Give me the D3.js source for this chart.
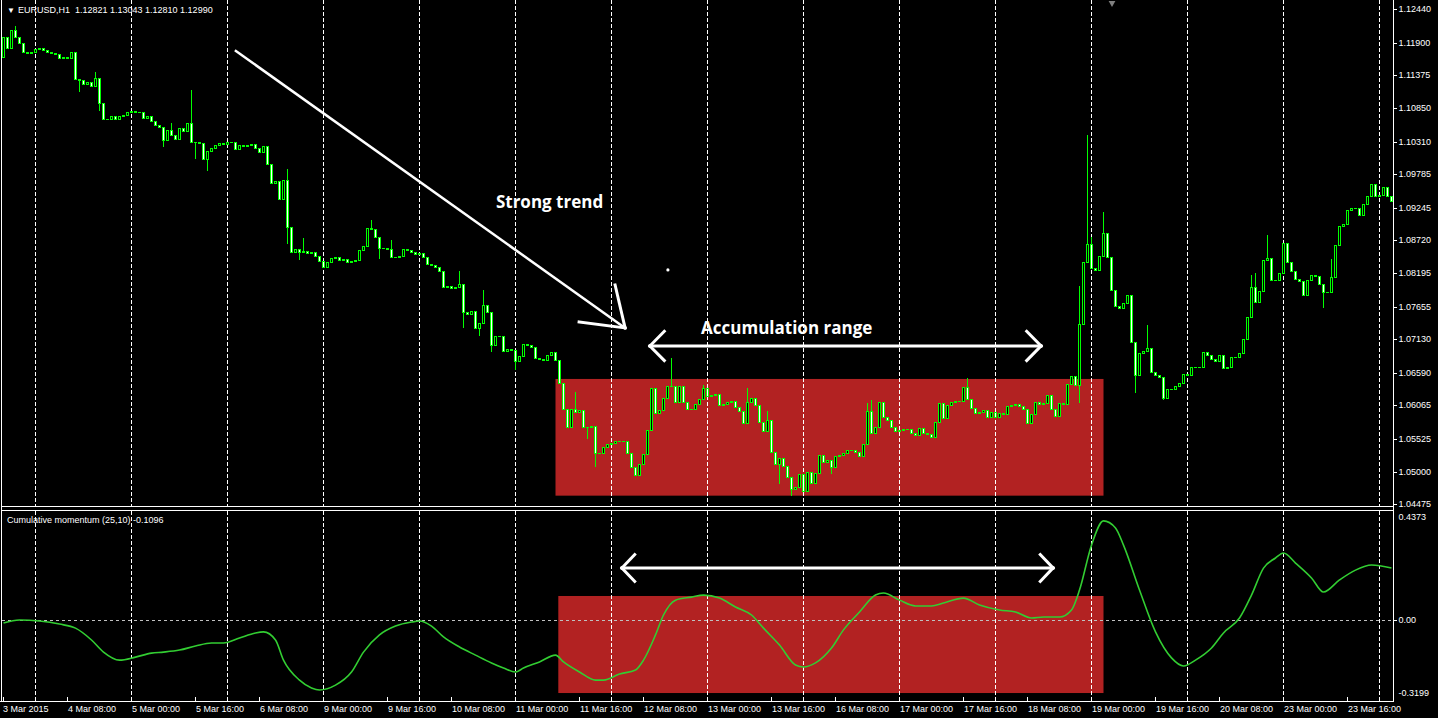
<!DOCTYPE html>
<html><head><meta charset="utf-8">
<script src="https://cdn.jsdelivr.net/npm/d3@7"></script>
<style>html,body{margin:0;padding:0;background:#000;overflow:hidden}svg{display:block}</style>
</head><body><svg id="c" width="1438" height="718"></svg>
<script>
// ---------------- DATA ----------------
const symbolTitle = "EURUSD,H1  1.12821 1.13043 1.12810 1.12990";
const indicatorTitle = "Cumulative momentum (25,10) -0.1096";
const firstOpen = 1.11673;
const closes = [
1.11995,1.11818,1.12107,1.11995,1.11898,1.11753,1.11737,1.11753,1.11802,1.11818,1.11786,1.11753,1.11737,1.11721,1.11657,1.11673,
1.11657,1.11753,1.11319,1.11303,1.11238,1.11271,1.11206,1.11335,1.10933,1.10675,1.10675,1.10724,1.10675,1.10724,1.10740,1.10788,
1.10804,1.10788,1.10788,1.10691,1.10724,1.10643,1.10579,1.10547,1.10337,1.10498,1.10418,1.10354,1.10531,1.10482,1.10611,1.10305,
1.10305,1.10289,1.10032,1.10160,1.10209,1.10257,1.10289,1.10273,1.10305,1.10300,1.10193,1.10257,1.10241,1.10257,1.10273,1.10209,
1.10144,1.10241,1.09951,1.09646,1.09678,1.09388,1.09694,1.08938,1.08535,1.08584,1.08535,1.08551,1.08519,1.08535,1.08471,1.08391,
1.08294,1.08374,1.08439,1.08455,1.08407,1.08423,1.08374,1.08391,1.08407,1.08568,1.08632,1.08922,1.08905,1.08777,1.08600,1.08605,
1.08584,1.08455,1.08450,1.08471,1.08584,1.08568,1.08535,1.08503,1.08519,1.08455,1.08342,1.08326,1.08294,1.08230,1.07972,1.07988,
1.07956,1.07972,1.08020,1.07570,1.07538,1.07586,1.07313,1.07393,1.07683,1.07570,1.07039,1.07184,1.07180,1.06942,1.06975,1.06959,
1.06782,1.06862,1.07055,1.07039,1.07007,1.06830,1.06814,1.06798,1.06878,1.06926,1.06798,1.06428,1.06009,1.05720,1.06009,1.05961,
1.05993,1.05720,1.05715,1.05736,1.05301,1.05296,1.05398,1.05446,1.05462,1.05494,1.05490,1.05494,1.05301,1.05076,1.04947,1.05124,
1.05285,1.05671,1.06347,1.05945,1.05993,1.06186,1.06379,1.06375,1.06122,1.06379,1.06122,1.06009,1.06005,1.06090,1.06170,1.06347,
1.06218,1.06234,1.06251,1.06074,1.06090,1.06122,1.06138,1.06041,1.05977,1.05784,1.06122,1.06186,1.06074,1.05800,1.05655,1.05832,
1.05317,1.05124,1.05221,1.05092,1.04915,1.04722,1.04754,1.04963,1.04690,1.04996,1.04819,1.04979,1.05269,1.05156,1.05189,1.05076,
1.05253,1.05269,1.05301,1.05350,1.05345,1.05317,1.05253,1.05446,1.05977,1.05623,1.05720,1.06122,1.05881,1.05832,1.05720,1.05655,
1.05671,1.05687,1.05683,1.05623,1.05591,1.05704,1.05623,1.05607,1.05559,1.05800,1.06106,1.05864,1.06074,1.06122,1.06138,1.06134,
1.06363,1.06170,1.06025,1.05945,1.05961,1.05993,1.05881,1.05961,1.05881,1.05945,1.05929,1.06058,1.06074,1.06090,1.06058,1.06009,
1.05784,1.05929,1.06122,1.06090,1.06106,1.06234,1.06009,1.05897,1.06106,1.06090,1.06411,1.06540,1.06395,1.07377,1.08374,1.08664,
1.08278,1.08246,1.08471,1.08841,1.08455,1.07924,1.07667,1.07634,1.07715,1.07843,1.07087,1.06556,1.06910,1.06942,1.06991,1.06605,
1.06556,1.06524,1.06186,1.06331,1.06327,1.06379,1.06428,1.06572,1.06556,1.06685,1.06681,1.06685,1.06926,1.06878,1.06814,1.06782,
1.06878,1.06669,1.06685,1.06846,1.06842,1.06910,1.07136,1.07490,1.07972,1.07731,1.07908,1.08407,1.08439,1.08085,1.08081,1.08197,
1.08680,1.08374,1.08230,1.08101,1.08069,1.07843,1.08085,1.08165,1.08149,1.08020,1.07892,1.07888,1.08133,1.08648,1.08954,1.08986,
1.09211,1.09243,1.09239,1.09131,1.09308,1.09436,1.09629,1.09436,1.09452,1.09581,1.09436,1.09356
];
// notable wicks (bar index -> extreme price)
const highIdx = [3,23,42,47,71,75,92,97,114,120,143,167,175,186,191,216,217,241,269,271,272,275,286,312,313,316,332];
const highVal = [1.12172,1.11432,1.10611,1.11142,1.09871,1.08761,1.09050,1.08728,1.08230,1.07924,1.06283,1.06830,1.06395,1.06347,1.05977,1.06106,1.06154,1.06508,1.07988,1.10418,1.08777,1.09179,1.07361,1.08165,1.08197,1.08809,1.08423];
const lowIdx = [19,24,40,48,51,71,74,94,115,119,122,128,146,148,194,197,207,269,283,290,330];
const lowVal = [1.11126,1.10820,1.10241,1.10048,1.09855,1.08680,1.08423,1.08439,1.07329,1.07200,1.06942,1.06653,1.05543,1.05092,1.04819,1.04625,1.04979,1.06122,1.06283,1.06170,1.07650];

const priceTicks = [1.12440,1.11900,1.11375,1.10850,1.10310,1.09785,1.09245,1.08720,1.08195,1.07655,1.07130,1.06590,1.06065,1.05525,1.05000,1.04475];
const timeLabels = ["3 Mar 2015","4 Mar 08:00","5 Mar 00:00","5 Mar 16:00","6 Mar 08:00","9 Mar 00:00","9 Mar 16:00","10 Mar 08:00","11 Mar 00:00","11 Mar 16:00","12 Mar 08:00","13 Mar 00:00","13 Mar 16:00","16 Mar 08:00","17 Mar 00:00","17 Mar 16:00","18 Mar 08:00","19 Mar 00:00","19 Mar 16:00","20 Mar 08:00","23 Mar 00:00","23 Mar 16:00"];
const timeLabelBars = [0,16,32,48,64,80,96,112,128,144,160,176,192,208,224,240,256,272,288,304,320,336];
const gridBars = [8,32,56,80,104,128,152,176,200,224,248,272,296,320,344];

const momBars = [0,4,9,14,18,22,25,29,33,37,40,44,48,52,55,59,63,65,68,70,74,77,79,83,87,90,94,98,102,104,107,110,114,118,122,125,128,130,134,138,140,144,148,150,154,158,160,163,165,168,172,175,179,183,187,190,194,198,200,203,207,210,214,218,220,224,228,232,235,240,244,249,253,257,260,264,267,269,272,275,278,280,284,288,292,295,298,302,305,309,312,315,318,320,323,327,330,334,338,342,347];
const momValues = [-0.011,0.001,-0.003,-0.015,-0.031,-0.078,-0.126,-0.158,-0.146,-0.130,-0.126,-0.118,-0.102,-0.090,-0.090,-0.070,-0.050,-0.046,-0.078,-0.158,-0.237,-0.268,-0.276,-0.257,-0.205,-0.126,-0.058,-0.023,-0.007,-0.003,-0.023,-0.066,-0.106,-0.138,-0.169,-0.189,-0.205,-0.189,-0.165,-0.138,-0.165,-0.205,-0.237,-0.237,-0.213,-0.197,-0.158,-0.058,0.021,0.080,0.092,0.100,0.088,0.053,0.021,-0.031,-0.098,-0.177,-0.185,-0.169,-0.110,-0.038,0.033,0.100,0.108,0.080,0.057,0.057,0.069,0.088,0.061,0.041,0.033,0.009,0.013,0.013,0.041,0.120,0.298,0.394,0.366,0.298,0.120,-0.046,-0.149,-0.181,-0.158,-0.110,-0.050,0.009,0.100,0.207,0.247,0.267,0.227,0.168,0.112,0.160,0.199,0.219,0.207];
const momTickVals = [0.4373,0.00,-0.3199];
const momTickText = ["0.4373","0.00","-0.3199"];

// annotations in (bar index, price / indicator value)
const boxBars = [138,275];
const boxPrices = [1.06492,1.04614];
const subBoxBars = [138.7,275];
const subBoxVals = [0.0964,-0.2883];
const trendBars = [58.1,155.4];
const trendPrices = [1.11769,1.07313];
const trendHeadBars = [152.9,143.9];
const trendHeadPrices = [1.08004,1.07409];
const rangeArrowBars = [161.6,259.4];
const rangeArrowPrice = 1.07023;
const rangeHeadDBars = 3.6;
const rangeHeadDPrice = 0.00235;
const subArrowBars = [154.6,262.4];
const subArrowVal = 0.2074;
const subHeadDBars = 3.2;
const subHeadDVal = 0.053;
const dotBar = 166.1, dotPrice = 1.08246;
const labels = ["Strong trend","Accumulation range"];
const labelBars = [123.1,174.4];
const labelPrices = [1.09340,1.07313];

// ---------------- SCALES ----------------
const svg = d3.select("#c");
const X0 = 1.5, X1 = 1393.5;
const mainTop = 0, mainBot = 506.5, subTop = 510.5, subBot = 701.5;
const x = d3.scaleLinear().domain([0,347]).range([3.5, 3.5+4*347]);
const y = d3.scaleLinear().domain([1.04475,1.12440]).range([504.3,9.3]);
const ym = d3.scaleLinear().domain([-0.3199,0.4373]).range([701,510]);
const LIME = "#00ff00", RED = "#b22222";
const FONT = "'Liberation Sans', Arial, sans-serif";

svg.append("rect").attr("width",1438).attr("height",718).attr("fill","#000");

// clip paths
const defs = svg.append("defs");
defs.append("clipPath").attr("id","clipMain").append("rect").attr("x",X0).attr("y",mainTop).attr("width",X1-X0).attr("height",mainBot-mainTop);
defs.append("clipPath").attr("id","clipSub").append("rect").attr("x",X0).attr("y",subTop).attr("width",X1-X0).attr("height",subBot-subTop);

const gMain = svg.append("g").attr("clip-path","url(#clipMain)");
const gSub = svg.append("g").attr("clip-path","url(#clipSub)");

// red boxes (background objects)
gMain.append("rect")
  .attr("x", x(boxBars[0])).attr("y", y(boxPrices[0]))
  .attr("width", x(boxBars[1]) - x(boxBars[0])).attr("height", y(boxPrices[1]) - y(boxPrices[0]))
  .attr("fill", RED);
gSub.append("rect")
  .attr("x", x(subBoxBars[0])).attr("y", ym(subBoxVals[0]))
  .attr("width", x(subBoxBars[1]) - x(subBoxBars[0])).attr("height", ym(subBoxVals[1]) - ym(subBoxVals[0]))
  .attr("fill", RED);

// vertical grid
[ [gMain, mainTop, mainBot], [gSub, subTop, subBot] ].forEach(([g,t,b]) => {
  g.selectAll(null).data(gridBars).join("line")
    .attr("x1", d => Math.round(x(d)-0.5)+0.5).attr("x2", d => Math.round(x(d)-0.5)+0.5)
    .attr("y1", t).attr("y2", b)
    .attr("stroke", "#ffffff").attr("stroke-width", 1).attr("stroke-dasharray", "4,2")
    .attr("shape-rendering","crispEdges");
});

// candles
const highMap = new Map(highIdx.map((d,i)=>[d,highVal[i]]));
const lowMap = new Map(lowIdx.map((d,i)=>[d,lowVal[i]]));
const bars = closes.map((c,i) => {
  const o = i === 0 ? firstOpen : closes[i-1];
  const h = Math.max(o, c, highMap.has(i) ? highMap.get(i) : -Infinity);
  const l = Math.min(o, c, lowMap.has(i) ? lowMap.get(i) : Infinity);
  return {i, o, c, h, l};
});
const gC = gMain.append("g").attr("shape-rendering","crispEdges");
bars.forEach(b => {
  const L = Math.round(x(b.i) - 1.5);
  const yt = Math.round(y(Math.max(b.o,b.c))), yb = Math.round(y(Math.min(b.o,b.c)));
  const yh = Math.round(y(b.h)), yl = Math.round(y(b.l));
  if (yl > yh) gC.append("line").attr("x1",L+1.5).attr("x2",L+1.5).attr("y1",yh).attr("y2",yl+1).attr("stroke",LIME);
  if (yb - yt < 1) {
    gC.append("line").attr("x1",L).attr("x2",L+3).attr("y1",yt+0.5).attr("y2",yt+0.5).attr("stroke",LIME);
  } else {
    gC.append("rect").attr("x",L+0.5).attr("y",yt+0.5).attr("width",2).attr("height",yb-yt)
      .attr("fill", b.c >= b.o ? "#000" : "#ffffff").attr("stroke",LIME).attr("stroke-width",1);
  }
});

// annotations main
const W3 = {stroke:"#fff","stroke-width":3,"stroke-linecap":"square",fill:"none"};
function applyAttrs(sel, a){ Object.entries(a).forEach(([k,v])=>sel.attr(k,v)); return sel; }
const tip = [x(trendBars[1]), y(trendPrices[1])];
applyAttrs(gMain.append("line").attr("x1",x(trendBars[0])).attr("y1",y(trendPrices[0])).attr("x2",tip[0]).attr("y2",tip[1]), W3).attr("stroke-width",2.5);
trendHeadBars.forEach((hb,k) => {
  applyAttrs(gMain.append("line").attr("x1",x(hb)).attr("y1",y(trendHeadPrices[k])).attr("x2",tip[0]).attr("y2",tip[1]), W3);
});
// range double arrow
const ra = rangeArrowBars.map(b => x(b)), ry = y(rangeArrowPrice);
applyAttrs(gMain.append("line").attr("x1",ra[0]).attr("y1",ry).attr("x2",ra[1]).attr("y2",ry), W3);
[[0,1],[1,-1]].forEach(([k,s]) => {
  [1,-1].forEach(v => {
    applyAttrs(gMain.append("line").attr("x1",ra[k]).attr("y1",ry)
      .attr("x2", x(rangeArrowBars[k] + s*rangeHeadDBars)).attr("y2", y(rangeArrowPrice + v*rangeHeadDPrice)), W3);
  });
});
gMain.append("circle").attr("cx",x(dotBar)).attr("cy",y(dotPrice)).attr("r",1.6).attr("fill","#fff");
gMain.selectAll("text.ann").data(labels).join("text").attr("class","ann")
  .attr("x",(d,i)=>x(labelBars[i])).attr("y",(d,i)=>y(labelPrices[i]))
  .attr("dominant-baseline","central")
  .attr("font-family","'Open Sans', sans-serif").attr("font-weight",700).attr("font-size",17)
  .attr("fill","#fff").text(d=>d);

// indicator
gSub.append("line").attr("x1",X0).attr("x2",X1).attr("y1",Math.round(ym(0))+0.5).attr("y2",Math.round(ym(0))+0.5)
  .attr("stroke","#c0c0c0").attr("stroke-dasharray","3,3").attr("shape-rendering","crispEdges");
gSub.append("path").datum(momBars.map((b,i)=>[b,momValues[i]]))
  .attr("d", d3.line().x(d=>x(d[0])).y(d=>ym(d[1])).curve(d3.curveMonotoneX))
  .attr("fill","none").attr("stroke","#32cd32").attr("stroke-width",1.6);
const sa = subArrowBars.map(b => x(b)), sy = ym(subArrowVal);
applyAttrs(gSub.append("line").attr("x1",sa[0]).attr("y1",sy).attr("x2",sa[1]).attr("y2",sy), W3);
[[0,1],[1,-1]].forEach(([k,s]) => {
  [1,-1].forEach(v => {
    applyAttrs(gSub.append("line").attr("x1",sa[k]).attr("y1",sy)
      .attr("x2", x(subArrowBars[k] + s*subHeadDBars)).attr("y2", ym(subArrowVal + v*subHeadDVal)), W3);
  });
});

// frames
const fr = svg.append("g").attr("stroke","#fff").attr("stroke-width",1).attr("fill","none").attr("shape-rendering","crispEdges");
fr.append("line").attr("x1",X0).attr("x2",X0).attr("y1",0).attr("y2",subBot);
fr.append("line").attr("x1",X1).attr("x2",X1).attr("y1",0).attr("y2",subBot);
fr.append("line").attr("x1",X0).attr("x2",X1).attr("y1",mainBot).attr("y2",mainBot);
fr.append("line").attr("x1",X0).attr("x2",X1).attr("y1",subTop).attr("y2",subTop);
fr.append("line").attr("x1",0).attr("x2",X1).attr("y1",subBot).attr("y2",subBot);

// price axis
const gA = svg.append("g").attr("font-family",FONT).attr("font-size",9).attr("fill","#fff");
priceTicks.forEach(p => {
  const yy = Math.round(y(p));
  svg.append("line").attr("x1",X1).attr("x2",X1+3).attr("y1",yy+0.5).attr("y2",yy+0.5).attr("stroke","#fff").attr("shape-rendering","crispEdges");
  gA.append("text").attr("x",X1+5).attr("y",yy).attr("dominant-baseline","central").text(p.toFixed(5));
});
momTickVals.forEach((v,i) => {
  const yy = ym(v);
  const anchorY = i===0 ? yy+7 : (i===2 ? yy-8 : yy);
  if (i===1) svg.append("line").attr("x1",X1).attr("x2",X1+3).attr("y1",Math.round(yy)+0.5).attr("y2",Math.round(yy)+0.5).attr("stroke","#fff").attr("shape-rendering","crispEdges");
  gA.append("text").attr("x",X1+5).attr("y",anchorY).attr("dominant-baseline","central").text(momTickText[i]);
});

// time axis
timeLabelBars.forEach((b,i) => {
  const xx = Math.round(x(b)-0.5)+0.5;
  svg.append("line").attr("x1",xx).attr("x2",xx).attr("y1",subBot).attr("y2",subBot-5).attr("stroke","#fff").attr("shape-rendering","crispEdges");
  gA.append("text").attr("x",xx+ (i===0 ? -0.5 : 0.5)).attr("y",709).attr("dominant-baseline","central").text(timeLabels[i]);
});
gridBars.forEach(b => {
  const xx = Math.round(x(b)-0.5)+0.5;
  svg.append("line").attr("x1",xx).attr("x2",xx).attr("y1",subBot).attr("y2",subBot-3).attr("stroke","#fff").attr("shape-rendering","crispEdges");
});

// titles
gA.append("text").attr("x",7).attr("y",10).attr("dominant-baseline","central").attr("font-size",8).text("\u25BC");
gA.append("text").attr("x",18).attr("y",10).attr("dominant-baseline","central").attr("xml:space","preserve").style("white-space","pre").text(symbolTitle);
gA.append("text").attr("x",7).attr("y",520).attr("dominant-baseline","central").text(indicatorTitle);
// chart shift marker
svg.append("path").attr("d", d3.symbol(d3.symbolTriangle, 20)()).attr("transform","translate(1112,3) rotate(180)").attr("fill","#808080");
</script></body></html>
